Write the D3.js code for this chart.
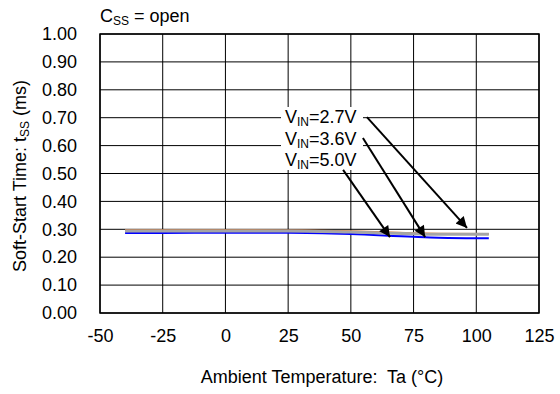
<!DOCTYPE html>
<html>
<head>
<meta charset="utf-8">
<script src="https://cdn.jsdelivr.net/npm/d3@7"></script>
<style>
  html, body { margin: 0; padding: 0; background: #fff; }
  svg { display: block; font-family: "Liberation Sans", Arial, sans-serif; }
</style>
</head>
<body>
<svg id="chart" width="560" height="394"></svg>
<script>
// Soft-start time vs ambient temperature, C_SS open
const temps = [-40, -25, 0, 25, 50, 75, 85, 105];
const vin27 = [0.297, 0.297, 0.297, 0.296, 0.293, 0.286, 0.284, 0.283];
const vin36 = [0.294, 0.294, 0.294, 0.294, 0.290, 0.284, 0.282, 0.282];
const vin50 = [0.287, 0.287, 0.288, 0.288, 0.283, 0.273, 0.270, 0.268];

const xTicks = [-50, -25, 0, 25, 50, 75, 100, 125];
const yTicks = [0, 0.1, 0.2, 0.3, 0.4, 0.5, 0.6, 0.7, 0.8, 0.9, 1.0];

// Annotation labels and their arrows (start, tip) in data units
const labels = ["2.7V", "3.6V", "5.0V"];
const arrowFrom = [[56.4, 0.702], [54.8, 0.627], [46.9, 0.513]];
const arrowTo   = [[96.3, 0.305], [79.6, 0.272], [65.6, 0.272]];

const margin = { left: 100, right: 21, top: 34, bottom: 81 };
const W = 560, H = 394;
const FS = 18, SUB = 12;
const svg = d3.select("#chart");

const x = d3.scaleLinear().domain([-50, 125]).range([margin.left, W - margin.right]);
const y = d3.scaleLinear().domain([0, 1]).range([H - margin.bottom, margin.top]);

// grid
const grid = svg.append("g").attr("stroke", "#000").attr("stroke-width", 1);
grid.selectAll("line.v").data(xTicks).join("line")
  .attr("x1", d => x(d)).attr("x2", d => x(d))
  .attr("y1", y(0)).attr("y2", y(1));
grid.selectAll("line.h").data(yTicks).join("line")
  .attr("x1", x(-50)).attr("x2", x(125))
  .attr("y1", d => y(d)).attr("y2", d => y(d));

// axes (labels only)
const xAxis = d3.axisBottom(x).tickValues(xTicks).tickSize(0).tickPadding(16).tickFormat(d => String(d));
const yAxis = d3.axisLeft(y).tickValues(yTicks).tickSize(0).tickPadding(23).tickFormat(d3.format(".2f"));
const gx = svg.append("g").attr("transform", `translate(0,${y(0)})`).call(xAxis);
const gy = svg.append("g").attr("transform", `translate(${x(-50)},0)`).call(yAxis);
[gx, gy].forEach(g => {
  g.select(".domain").remove();
  g.selectAll("text").attr("font-size", FS).attr("fill", "#000")
    .attr("font-family", "'Liberation Sans', Arial, sans-serif");
});

// frame
svg.append("rect").attr("x", x(-50)).attr("y", y(1))
  .attr("width", x(125) - x(-50)).attr("height", y(0) - y(1))
  .attr("fill", "none").attr("stroke", "#000").attr("stroke-width", 1.5);

// curves
const line = vals => d3.line().x((d, i) => x(temps[i])).y(d => y(d)).curve(d3.curveMonotoneX)(vals);
svg.append("path").attr("d", line(vin50)).attr("fill", "none").attr("stroke", "#0000ff").attr("stroke-width", 2);
svg.append("path").attr("d", line(vin27)).attr("fill", "none").attr("stroke", "#ed7d31").attr("stroke-width", 2);
svg.append("path").attr("d", line(vin36)).attr("fill", "none").attr("stroke", "#a5a5a5").attr("stroke-width", 3);

// annotation box
const labX = 285, labY0 = 123, labDy = 21.5;
svg.append("rect").attr("x", 281).attr("y", 107).attr("width", 82).attr("height", 63).attr("fill", "#fff");

const defs = svg.append("defs");
defs.append("marker").attr("id", "ah").attr("viewBox", "0 0 10 10")
  .attr("refX", 10).attr("refY", 5).attr("markerWidth", 7).attr("markerHeight", 5.5)
  .attr("markerUnits", "strokeWidth").attr("orient", "auto")
  .append("path").attr("d", "M0,0 L10,5 L0,10 Z").attr("fill", "#000");

labels.forEach((lab, i) => {
  const t = svg.append("text").attr("x", labX).attr("y", labY0 + i * labDy)
    .attr("font-size", FS).attr("fill", "#000");
  t.append("tspan").text("V");
  t.append("tspan").attr("font-size", SUB).attr("dy", 3).text("IN");
  t.append("tspan").attr("dy", -3).text("=" + lab);
  svg.append("line")
    .attr("x1", x(arrowFrom[i][0])).attr("y1", y(arrowFrom[i][1]))
    .attr("x2", x(arrowTo[i][0])).attr("y2", y(arrowTo[i][1]))
    .attr("stroke", "#000").attr("stroke-width", 2).attr("marker-end", "url(#ah)");
});

// title
const title = svg.append("text").attr("x", 100).attr("y", 22).attr("font-size", FS).attr("fill", "#000");
title.append("tspan").text("C");
title.append("tspan").attr("font-size", SUB).attr("dy", 3).text("SS");
title.append("tspan").attr("dy", -3).text(" = open");

// axis titles
svg.append("text").attr("x", 322).attr("y", 383)
  .attr("text-anchor", "middle").attr("font-size", FS).attr("fill", "#000")
  .attr("xml:space", "preserve")
  .text("Ambient Temperature:  Ta (°C)");

const yt = svg.append("text").attr("transform", `translate(26,176) rotate(-90)`)
  .attr("text-anchor", "middle").attr("font-size", FS).attr("fill", "#000");
yt.append("tspan").text("Soft-Start Time: t");
yt.append("tspan").attr("font-size", SUB).attr("dy", 3).text("SS");
yt.append("tspan").attr("dy", -3).text(" (ms)");
</script>
</body>
</html>
